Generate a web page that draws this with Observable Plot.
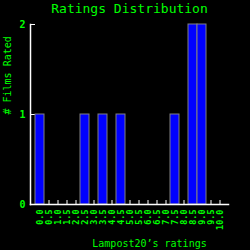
<!DOCTYPE html>
<html><head><meta charset="utf-8">
<script src="https://cdn.jsdelivr.net/npm/d3@7"></script>
<script src="https://cdn.jsdelivr.net/npm/@observablehq/plot@0.6"></script>
<style>
html,body{margin:0;padding:0;background:#000;}
</style></head>
<body><div id="chart"></div>
<script>
const ratings = ["0.0","0.5","1.0","1.5","2.0","2.5","3.0","3.5","4.0","4.5","5.0","5.5","6.0","6.5","7.0","7.5","8.0","8.5","9.0","9.5","10.0"];
const counts  = [1,0,0,0,0,1,0,1,0,1,0,0,0,0,0,1,0,2,2,0,0];
const yTicks = [0,1,2];
const title = "Ratings Distribution";
const xLabel = "Lampost20\u2019s ratings";
const yLabel = "# Films Rated";

const data = ratings.map((r,i)=>({rating:r, count:counts[i]}));
const green = "#00ff00";
const mono = "DejaVu Sans Mono";

const chart = Plot.plot({
  width: 250, height: 250,
  marginTop: 24, marginBottom: 46, marginLeft: 30, marginRight: 22,
  style: {background: "#000", color: green, fontFamily: mono},
  x: {domain: ratings, type: "band", paddingInner: 0, paddingOuter: 0.5, axis: null},
  y: {domain: [0,2], axis: null},
  marks: [
    Plot.tickX(ratings, {x: d=>d, insetTop: 176, stroke: "white"}),
    Plot.tickY(yTicks.slice(1), {y: d=>d, insetRight: 193, stroke: "white"}),
    Plot.barY(data, {x: "rating", y: "count", fill: "#0000ff", stroke: "#808080", strokeWidth: 1}),
    Plot.frame({anchor: "left", stroke: "white", strokeWidth: 1.5}),
    Plot.frame({anchor: "bottom", stroke: "white", strokeWidth: 1.5}),
    Plot.axisY(yTicks, {tickSize: 0, tickPadding: 5, tickFormat: d3.format("d"), fill: green, fontSize: 10, fontWeight: "bold", fontFamily: mono, label: null}),
    Plot.text(ratings, {x: d=>d, frameAnchor: "bottom", dy: 5, rotate: -90, textAnchor: "end", lineAnchor: "middle", fill: green, fontSize: 8.5, fontWeight: "bold", fontFamily: mono}),
    Plot.text([title], {frameAnchor: "top", dy: -16, lineAnchor: "middle", fill: green, fontSize: 13, fontFamily: mono}),
    Plot.text([xLabel], {frameAnchor: "bottom", dx: 20, dy: 39, lineAnchor: "middle", fill: green, fontSize: 10, fontFamily: mono}),
    Plot.text([yLabel], {frameAnchor: "left", dx: -23, rotate: -90, lineAnchor: "middle", fill: green, fontSize: 10, fontFamily: mono})
  ]
});
document.getElementById("chart").appendChild(chart);
</script></body></html>
